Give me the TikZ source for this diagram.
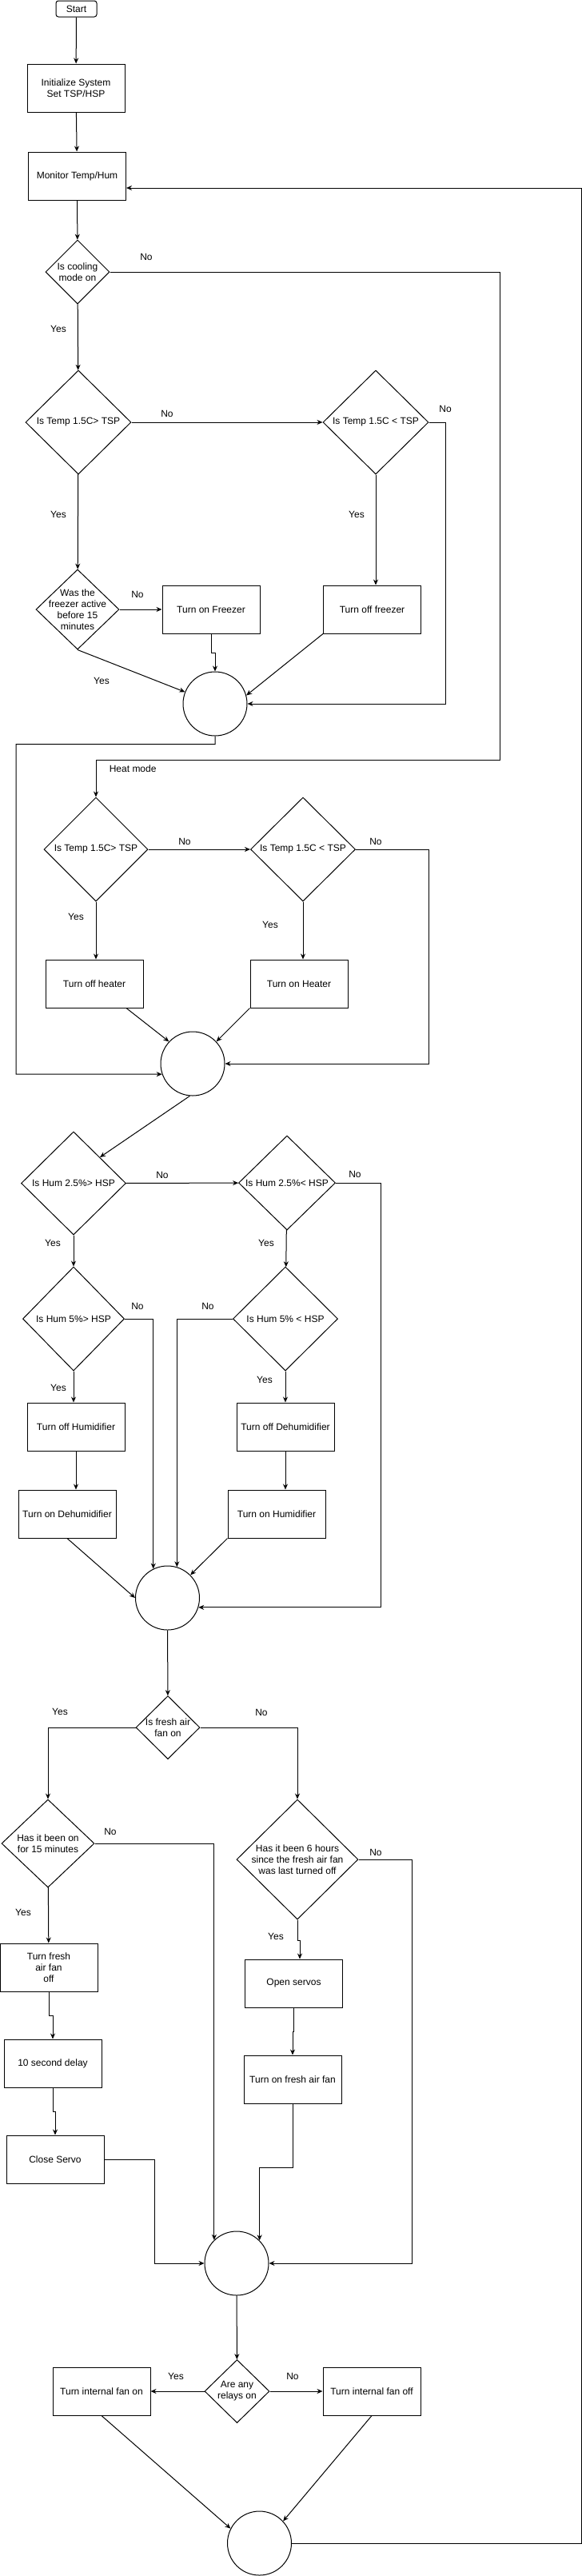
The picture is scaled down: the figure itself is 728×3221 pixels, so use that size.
\documentclass[tikz,border=0pt]{standalone}
\usepackage{fontspec}
\setmainfont{Liberation Sans}
\usetikzlibrary{shapes.geometric,arrows.meta}

\begin{document}
\begin{tikzpicture}[x=1pt, y=-1pt, font=\fontsize{12}{14}\selectfont, line width=1pt,
        >={Stealth[length=7pt,width=6pt]},
        process/.style={rectangle, draw, minimum width=122, minimum height=60, align=center},
        decision/.style={diamond, draw, inner sep=0pt, label={[align=center]center:#1}},
        junction/.style={circle, draw, minimum size=80}]
        \useasboundingbox (0,0) rectangle (728,3221);

        % Nodes
        \node (start) [rectangle, draw, rounded corners=3pt, minimum width=51, minimum height=20] at (95.5,11) {Start};
        \node (init) [process] at (95,110) {Initialize System\\Set TSP/HSP};
        \node (monitor) [process] at (96.5,220) {Monitor Temp/Hum};
        \node (cool) [decision={Is cooling\\mode on}, minimum width=80, minimum height=80] at (97,340) {};

        % Cooling
        \node (ctemp1) [decision={Is Temp 1.5C> TSP}, minimum width=132, minimum height=130] at (98,528) {};
        \node (ctemp2) [decision={Is Temp 1.5C < TSP}, minimum width=132, minimum height=130] at (470,528) {};
        \node (frzchk) [decision={Was the\\freezer active\\before 15\\minutes}, minimum width=104, minimum height=100] at (97,762) {};
        \node (frzon) [process] at (264,762) {Turn on Freezer};
        \node (frzoff) [process] at (465.5,762) {Turn off freezer};
        \node (join1) [junction] at (269,880) {};

        % Heating
        \node (htemp1) [decision={Is Temp 1.5C> TSP}, minimum width=130, minimum height=130] at (120,1062) {};
        \node (htemp2) [decision={Is Temp 1.5C < TSP}, minimum width=131, minimum height=130] at (379,1062) {};
        \node (htroff) [process] at (118,1230) {Turn off heater};
        \node (htron) [process] at (374,1230) {Turn on Heater};
        \node (join2) [junction] at (241,1330) {};

        % Humidity
        \node (hum1) [decision={Is Hum 2.5\%> HSP}, minimum width=131, minimum height=129] at (92,1479.5) {};
        \node (hum2) [decision={Is Hum 2.5\%< HSP}, minimum width=121, minimum height=118] at (359,1479) {};
        \node (hum3) [decision={Is Hum 5\%> HSP}, minimum width=127, minimum height=130] at (92,1649) {};
        \node (hum4) [decision={Is Hum 5\% < HSP}, minimum width=131, minimum height=130] at (357,1649) {};
        \node (humoff) [process] at (95,1784) {Turn off Humidifier};
        \node (dehoff) [process] at (357,1784) {Turn off Dehumidifier};
        \node (dehon) [process] at (84,1893) {Turn on Dehumidifier};
        \node (humon) [process] at (346,1893) {Turn on Humidifier};
        \node (join3) [junction] at (209.5,1998) {};

        % Fresh air
        \node (fresh) [decision={Is fresh air\\fan on}, minimum width=80, minimum height=79] at (210,2160) {};
        \node (fan15) [decision={Has it been on\\for 15 minutes}, minimum width=116, minimum height=110] at (60,2305) {};
        \node (fan6h) [decision={Has it been 6 hours\\since the fresh air fan\\was last turned off}, minimum width=152, minimum height=150] at (372,2325) {};
        \node (fanoff) [process] at (61,2460) {Turn fresh\\air fan\\off};
        \node (delay) [process] at (66,2580) {10 second delay};
        \node (srvclose) [process] at (69,2700) {Close Servo};
        \node (srvopen) [process] at (367.5,2480) {Open servos};
        \node (fanon) [process] at (366,2600) {Turn on fresh air fan};
        \node (join4) [junction] at (296,2830) {};

        % Internal fan
        \node (relays) [decision={Are any\\relays on}, minimum width=81, minimum height=79] at (296.5,2990) {};
        \node (intfanon) [process] at (127,2990) {Turn internal fan on};
        \node (intfanoff) [process] at (465,2990) {Turn internal fan off};
        \node (join5) [junction] at (324.5,3180) {};

        % Labels
        \node (nocool) at (183,321) {No};
        \node (yescool) at (73,411) {Yes};
        \node (noctemp1) at (209,517) {No};
        \node (noctemp2) at (557,511) {No};
        \node (yesctemp1) at (73,643) {Yes};
        \node (yesctemp2) at (446,643) {Yes};
        \node (nofrz) at (172,743) {No};
        \node (yesfrz) at (127,851) {Yes};
        \node (heatmode) [anchor=west] at (133,961) {Heat mode};
        \node (nohtemp1) at (231,1052) {No};
        \node (nohtemp2) at (470,1052) {No};
        \node (yeshtemp1) at (95,1146) {Yes};
        \node (yeshtemp2) at (338,1156) {Yes};
        \node (nohum1) at (203,1469) {No};
        \node (nohum2) at (444,1468) {No};
        \node (yeshum1) at (66,1554) {Yes};
        \node (yeshum2) at (333,1554) {Yes};
        \node (nohum3) at (172,1633) {No};
        \node (nohum4) at (260,1633) {No};
        \node (yeshum3) at (73,1735) {Yes};
        \node (yeshum4) at (331,1725) {Yes};
        \node (yesfresh) at (75,2140) {Yes};
        \node (nofresh) at (327,2141) {No};
        \node (nofan15) at (138,2290) {No};
        \node (nofan6h) at (470,2316) {No};
        \node (yesfan15) at (29,2391) {Yes};
        \node (yesfan6h) at (345,2421) {Yes};
        \node (yesrelays) at (220,2971) {Yes};
        \node (norelays) at (366,2971) {No};

        % Arrows
        \draw[->] (start) -- (init);
        \draw[->] (init) -- (monitor);
        \draw[->] (monitor) -- (cool);
        \draw[->] (cool) -- (ctemp1);
        \draw[->] (cool.east) -| (625,950) -| (htemp1.north);
        \draw[->] (ctemp1) -- (ctemp2);
        \draw[->] (ctemp1) -- (frzchk);
        \draw[->] (ctemp2.south) -- (ctemp2.south |- frzoff.north);
        \draw[->] (ctemp2.east) -- ++(21,0) |- (join1.east);
        \draw[->] (frzchk) -- (frzon);
        \draw[->] (frzchk.south) -- (join1);
        \draw[->] (frzon.south) -- ++(0,24) -| (join1.north);
        \draw[->] (frzoff.south west) -- (join1.15);
        \draw[->] (join1.south) -- ++(0,10) -| (20,1343) -- (join2.199);
        \draw[->] (htemp1) -- (htemp2);
        \draw[->] (htemp1.south) -- (htemp1.south |- htroff.north);
        \draw[->] (htemp2.south) -- (htemp2.south |- htron.north);
        \draw[->] (htemp2.east) -- ++(91,0) |- (join2.east);
        \draw[->] ([xshift=40pt]htroff.south) -- (join2.137);
        \draw[->] (htron.south west) -- (join2.43);
        \draw[->] (join2.265) -- (hum1.north east);
        \draw[->] (hum1) -- (hum2);
        \draw[->] (hum1) -- (hum3);
        \draw[->] (hum2) -- (hum4);
        \draw[->] (hum2.east) -- ++(56,0) |- (join3.343);
        \draw[->] (hum3.east) -| (join3.116);
        \draw[->] (hum4.west) -| (join3.73);
        \draw[->] (hum3.south) -- (hum3.south |- humoff.north);
        \draw[->] (hum4.south) -- (hum4.south |- dehoff.north);
        \draw[->] (humoff.south) -- (humoff.south |- dehon.north);
        \draw[->] (dehoff.south) -- (dehoff.south |- humon.north);
        \draw[->] (dehon.south) -- (join3.west);
        \draw[->] (humon.south west) -- (join3.45);
        \draw[->] (join3) -- (fresh);
        \draw[->] (fresh.west) -| (fan15.north);
        \draw[->] (fresh.east) -| (fan6h.north);
        \draw[->] (fan15.east) -| (join4.134);
        \draw[->] (fan6h.east) -- ++(66.5,0) |- (join4.east);
        \draw[->] (fan15) -- (fanoff);
        \draw[->] (fan6h.south) -- ++(0,26) -| ([xshift=7.5pt]srvopen.north);
        \draw[->] (srvopen.south) -- ++(0,30) -| (fanon.north);
        \draw[->] (fanoff.south) -- ++(0,30) -| (delay.north);
        \draw[->] (delay.south) -- ++(0,30) -| (srvclose.north);
        \draw[->] (srvclose.east) -- ++(63,0) |- (join4.west);
        \draw[->] (fanon.south) -- ++(0,80) -| (join4.45);
        \draw[->] (join4) -- (relays);
        \draw[->] (relays) -- (intfanon);
        \draw[->] (relays) -- (intfanoff);
        \draw[->] (intfanon.south) -- (join5.153);
        \draw[->] (intfanoff.south) -- (join5.43);
        \draw[->] (join5.east) -| (727,235) -- ([yshift=-15pt]monitor.east);
    \end{tikzpicture}
\end{document}
